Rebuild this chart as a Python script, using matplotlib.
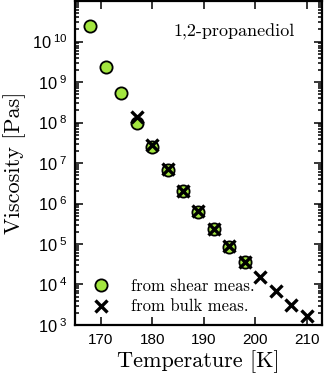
import math
import matplotlib
matplotlib.use('Agg')
import matplotlib.pyplot as plt
from matplotlib.ticker import FixedLocator, LogLocator, FuncFormatter, NullFormatter

plt.rcParams['font.family'] = 'Liberation Sans'
plt.rcParams['mathtext.fontset'] = 'custom'
plt.rcParams['mathtext.rm'] = 'Liberation Sans'
plt.rcParams['mathtext.it'] = 'Liberation Sans'

# shear measurements
shear_T = [168, 171, 174, 177, 180, 183, 186, 189, 192, 195, 198]
shear_eta = [2.4e10, 2.4e9, 5.4e8, 1.0e8, 2.5e7, 6.8e6, 2.0e6, 6.3e5, 2.3e5, 8.3e4, 3.6e4]

# bulk measurements
bulk_T = [177, 180, 183, 186, 189, 192, 195, 198, 201, 204, 207, 210]
bulk_eta = [1.4e8, 2.8e7, 7.0e6, 2.0e6, 6.5e5, 2.3e5, 9.0e4, 3.6e4, 1.55e4, 6.8e3, 3.2e3, 1.65e3]

x_ticks = [170, 180, 190, 200, 210]
serif = 'cmr10'

fig = plt.figure(figsize=(3.27, 3.77), dpi=100)
ax = fig.add_axes([0.229, 0.138, 0.756, 0.859])

ax.plot(shear_T, shear_eta, 'o', ms=8.8, mfc='#a3e63f', mec='black', mew=1.3,
        ls='none', label='from shear meas.')
ax.plot(bulk_T, bulk_eta, 'x', ms=8.5, color='black', mew=2.4,
        ls='none', label='from bulk meas.')

ax.set_yscale('log')
ax.set_xlim(165, 213)
ax.set_ylim(1e3, 1e11)

ax.xaxis.set_major_locator(FixedLocator(x_ticks))
ax.yaxis.set_major_locator(FixedLocator([10.0 ** e for e in range(3, 11)]))
ax.yaxis.set_minor_locator(LogLocator(base=10, subs=range(2, 10), numticks=20))
ax.yaxis.set_minor_formatter(NullFormatter())


def pow10(v, pos):
    e = int(round(math.log10(v)))
    return r'$10^{\;%d}$' % e


ax.yaxis.set_major_formatter(FuncFormatter(pow10))

ax.tick_params(which='both', direction='in', top=True, right=True, width=1.1)
ax.tick_params(which='major', length=5.5)
ax.tick_params(which='minor', length=3)
ax.tick_params(axis='x', labelsize=11, pad=6)
ax.tick_params(axis='y', labelsize=11.8, pad=5.5)
for s in ax.spines.values():
    s.set_linewidth(1.6)

ax.set_xlabel('Temperature [K]', family=serif, fontsize=16, labelpad=2)
ax.set_ylabel('Viscosity [Pas]', family=serif, fontsize=16, labelpad=4)

ax.text(0.89, 0.905, '1,2-propanediol', transform=ax.transAxes, ha='right',
        va='center', family=serif, fontsize=13)

leg = ax.legend(loc='lower left', frameon=False, prop={'family': serif, 'size': 12},
                handletextpad=1.15, labelspacing=0.3, borderaxespad=0.0,
                handlelength=1.2, bbox_to_anchor=(0.04, 0.012))

fig.savefig('out.png', dpi=100)
